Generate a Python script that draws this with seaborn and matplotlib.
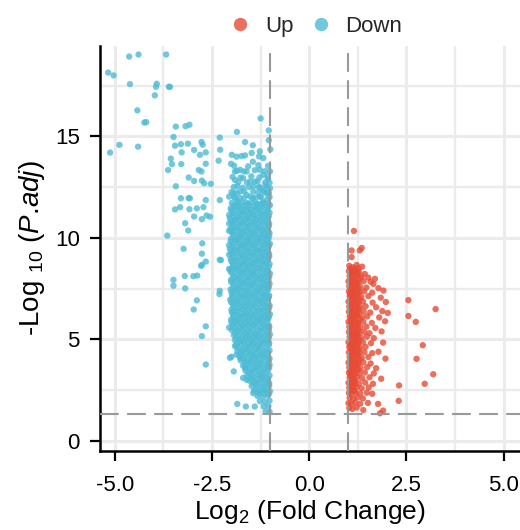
import math

import matplotlib
matplotlib.use("Agg")
import matplotlib.pyplot as plt
import seaborn as sns
import pandas as pd

# ---- values ----
fc_cut = 1.0      # |log2 fold change| threshold
padj_cut = 0.05   # adjusted p-value threshold

x_ticks = [-5.0, -2.5, 0.0, 2.5, 5.0]
y_ticks = [0, 5, 10, 15]
groups = ["Up", "Down"]
group_colors = ["#E64B35", "#4DBBD5"]

# down-regulated: scattered left tail
down_tail_x = [
    -5.17, -5.03, -4.63, -4.39, -3.68, -4.61, -3.92, -3.94, -3.61, -3.58,
    -3.97, -4.42, -4.24, -4.19, -3.43, -3.18, -3.08, -3.49, -4.88, -5.12,
    -4.40, -3.30, -3.45, -3.12, -2.77, -2.74, -3.28, -2.96, -2.66, -2.81,
    -2.30, -2.29, -3.56, -3.53, -3.29, -2.66, -2.33, -3.63, -2.84, -2.77,
    -3.10, -2.96, -2.76, -2.70, -2.53, -3.43, -3.30, -3.10, -3.07, -2.66,
    -2.30, -3.45, -3.32, -3.08, -2.89, -2.72, -2.96, -2.76, -2.64, -2.55,
    -3.19, -3.11, -3.65, -3.23, -2.75, -2.76, -2.66, -2.78, -2.76, -2.30,
    -2.27, -3.20, -2.98, -2.88, -3.49, -3.49, -3.19, -2.31, -2.30, -2.89,
    -2.97, -2.66, -2.76, -2.66, -2.06, -2.04,
]
down_tail_y = [
    18.14, 18.00, 18.93, 19.03, 19.03, 17.57, 17.59, 17.44, 17.44, 17.44,
    17.02, 16.28, 15.68, 15.70, 15.48, 15.50, 15.57, 14.97, 14.58, 14.20,
    14.49, 14.61, 14.54, 14.64, 14.72, 14.59, 14.21, 14.33, 14.21, 14.09,
    14.94, 14.34, 13.90, 13.63, 13.63, 13.65, 13.80, 13.34, 13.34, 13.27,
    12.97, 12.80, 12.82, 12.69, 12.66, 12.54, 11.95, 11.96, 11.95, 11.86,
    11.86, 11.40, 11.51, 11.41, 11.45, 11.51, 11.05, 10.92, 11.10, 11.04,
    10.72, 10.36, 10.11, 9.46, 9.73, 9.22, 8.83, 8.62, 8.67, 8.92,
    8.90, 8.12, 8.11, 8.14, 7.93, 7.64, 7.51, 7.23, 7.39, 6.92,
    6.47, 5.64, 5.16, 3.76, 5.58, 4.09,
]

# down-regulated: loose top of the main cluster and its ragged edges
down_edge_x = [
    -1.99, -1.87, -1.74, -1.65, -2.01, -1.45, -1.86, -1.65, -1.45, -1.25,
    -1.04, -1.04, -1.00, -1.29, -1.91, -1.78, -1.61, -1.27, -1.18, -1.91,
    -1.70, -1.52, -1.40, -1.95, -1.78, -1.61, -1.44, -1.27, -1.10, -1.83,
    -1.57, -1.35, -1.18, -1.01, -1.01, -1.01, -1.48, -1.27, -1.18, -1.06,
    -1.12, -1.30, -1.55, -1.85, -1.20, -1.68, -1.90, -1.45, -1.08, -2.06,
    -2.06, -2.06, -2.06, -2.06, -2.06, -2.06,
    -2.00, -1.91, -1.78, -1.94, -1.65, -1.70, -1.61, -1.44, -1.85, -1.63,
    -1.40, -1.87,
]
down_edge_y = [
    14.09, 14.00, 14.03, 14.06, 13.65, 13.75, 15.22, 14.72, 14.56, 15.88,
    15.29, 14.81, 14.36, 14.01, 13.27, 13.35, 13.27, 13.35, 13.10, 12.85,
    12.94, 12.77, 12.77, 12.19, 12.28, 12.11, 12.28, 12.03, 12.19, 11.78,
    11.70, 11.70, 11.78, 12.44, 11.61, 13.27, 14.18, 14.26, 13.93, 12.90,
    12.60, 12.50, 12.50, 12.55, 12.35, 11.95, 11.95, 11.95, 11.90, 12.03,
    11.12, 10.70, 10.34, 9.63, 9.17, 8.47,
    4.14, 4.67, 4.09, 3.42, 3.59, 3.10, 3.01, 2.35, 1.82, 1.69,
    1.69, 4.25,
]

# down-regulated: upper part of the main cluster (patchy)
down_upper_x = [
    -1.99, -1.86, -1.72, -1.59, -1.46, -1.32, -1.19, -1.05,
    -1.93, -1.79, -1.52, -1.38, -1.24, -1.02,
    -2.00, -1.86, -1.67, -1.31, -1.15, -1.04,
    -1.94, -1.71, -1.44, -1.26, -1.09,
    -1.82, -1.60, -1.33, -1.13, -1.02,
    -1.97, -1.77, -1.49, -1.28, -1.07,
    -1.86, -1.68, -1.40, -1.14,
    -1.93, -1.57, -1.31, -1.06,
]
down_upper_y = [
    11.72, 11.68, 11.75, 11.70, 11.74, 11.67, 11.73, 11.69,
    12.00, 11.97, 12.03, 11.98, 12.02, 12.01,
    12.25, 12.22, 12.28, 12.24, 12.27, 12.21,
    12.50, 12.47, 12.53, 12.48, 12.52,
    12.75, 12.72, 12.78, 12.74, 12.71,
    13.00, 12.97, 13.03, 12.98, 13.02,
    13.30, 13.27, 13.33, 13.28,
    13.55, 13.52, 13.58, 13.54,
]

# down-regulated: the dense body between log2FC -2 and -1
down_core_x = [
    -2.02, -1.88, -1.76, -1.62, -1.49, -1.36, -1.21, -1.06,
    -1.96, -1.82, -1.69, -1.55, -1.43, -1.28, -1.14, -1.02,
    -2.04, -1.90, -1.77, -1.63, -1.50, -1.37, -1.23, -1.08,
    -1.98, -1.84, -1.71, -1.58, -1.44, -1.31, -1.17, -1.03,
    -2.03, -1.89, -1.75, -1.61, -1.48, -1.34, -1.20, -1.07,
    -1.97, -1.83, -1.70, -1.56, -1.42, -1.29, -1.15, -1.02,
    -2.01, -1.87, -1.74, -1.60, -1.47, -1.33, -1.19, -1.05,
    -1.95, -1.81, -1.68, -1.54, -1.41, -1.27, -1.13, -1.01,
    -2.04, -1.90, -1.76, -1.62, -1.49, -1.35, -1.22, -1.08,
    -1.98, -1.85, -1.71, -1.57, -1.44, -1.30, -1.16, -1.03,
    -2.02, -1.88, -1.74, -1.61, -1.47, -1.34, -1.20, -1.06,
    -1.96, -1.82, -1.69, -1.55, -1.42, -1.28, -1.14, -1.02,
    -2.03, -1.89, -1.76, -1.62, -1.48, -1.35, -1.21, -1.07,
    -1.97, -1.83, -1.70, -1.56, -1.43, -1.29, -1.15, -1.01,
    -2.01, -1.87, -1.73, -1.60, -1.46, -1.33, -1.19, -1.05,
    -1.95, -1.81, -1.68, -1.54, -1.41, -1.27, -1.13, -1.02,
    -2.02, -1.88, -1.75, -1.61, -1.48, -1.34, -1.20, -1.06,
    -1.98, -1.84, -1.70, -1.57, -1.43, -1.30, -1.16, -1.03,
    -2.03, -1.89, -1.76, -1.62, -1.49, -1.35, -1.22, -1.08,
    -1.96, -1.83, -1.69, -1.56, -1.42, -1.28, -1.15, -1.02,
    -2.00, -1.87, -1.73, -1.59, -1.46, -1.32, -1.19, -1.05,
    -1.95, -1.81, -1.67, -1.54, -1.40, -1.27, -1.13, -1.01,
    -2.01, -1.88, -1.74, -1.61, -1.47, -1.34, -1.20, -1.06,
    -1.97, -1.84, -1.70, -1.56, -1.43, -1.29, -1.16, -1.03,
    -1.99, -1.85, -1.72, -1.58, -1.45, -1.31, -1.17, -1.04,
    -1.94, -1.80, -1.66, -1.53, -1.39, -1.25, -1.12, -1.01,
    -1.91, -1.77, -1.64, -1.50, -1.37, -1.23, -1.09,
    -1.88, -1.74, -1.60, -1.47, -1.33, -1.19, -1.04,
    -1.85, -1.71, -1.57, -1.44, -1.30, -1.16, -1.02,
    -1.80, -1.66, -1.52, -1.38, -1.24, -1.09,
    -1.76, -1.62, -1.48, -1.34, -1.20, -1.04,
    -1.70, -1.55, -1.41, -1.26, -1.10, -1.02,
    -1.64, -1.50, -1.36, -1.21, -1.06,
    -1.60, -1.46, -1.31, -1.17, -1.02,
    -1.54, -1.39, -1.24, -1.09,
    -1.48, -1.34, -1.19, -1.03,
    -1.42, -1.28, -1.14, -1.01,
    -1.33, -1.19, -1.06,
    -1.27, -1.14, -1.02,
    -1.17, -1.05,
    -1.12, -1.02,
]
down_core_y = [
    11.45, 11.50, 11.42, 11.48, 11.40, 11.47, 11.52, 11.44,
    11.22, 11.18, 11.25, 11.20, 11.16, 11.23, 11.19, 11.24,
    10.96, 10.92, 10.99, 10.94, 10.97, 10.91, 10.98, 10.95,
    10.71, 10.68, 10.73, 10.66, 10.72, 10.69, 10.74, 10.70,
    10.44, 10.48, 10.42, 10.47, 10.43, 10.46, 10.41, 10.45,
    10.21, 10.17, 10.23, 10.19, 10.22, 10.16, 10.20, 10.24,
    9.96, 9.93, 9.98, 9.92, 9.97, 9.94, 9.99, 9.95,
    9.70, 9.73, 9.67, 9.72, 9.68, 9.74, 9.69, 9.71,
    9.46, 9.42, 9.48, 9.44, 9.47, 9.41, 9.45, 9.43,
    9.19, 9.23, 9.17, 9.22, 9.18, 9.21, 9.16, 9.20,
    8.96, 8.93, 8.98, 8.94, 8.97, 8.92, 8.95, 8.99,
    8.70, 8.68, 8.73, 8.67, 8.72, 8.69, 8.74, 8.71,
    8.44, 8.47, 8.42, 8.46, 8.43, 8.48, 8.45, 8.41,
    8.21, 8.18, 8.23, 8.19, 8.22, 8.17, 8.20, 8.24,
    7.94, 7.97, 7.92, 7.96, 7.93, 7.98, 7.95, 7.91,
    7.71, 7.68, 7.73, 7.69, 7.72, 7.67, 7.70, 7.74,
    7.46, 7.43, 7.48, 7.42, 7.47, 7.44, 7.49, 7.45,
    7.19, 7.22, 7.17, 7.21, 7.18, 7.23, 7.20, 7.16,
    6.96, 6.93, 6.98, 6.94, 6.97, 6.92, 6.95, 6.99,
    6.70, 6.73, 6.68, 6.72, 6.69, 6.74, 6.71, 6.67,
    6.46, 6.43, 6.48, 6.44, 6.47, 6.42, 6.45, 6.49,
    6.21, 6.18, 6.23, 6.19, 6.22, 6.17, 6.20, 6.24,
    5.96, 5.93, 5.98, 5.94, 5.97, 5.92, 5.95, 5.99,
    5.70, 5.73, 5.68, 5.72, 5.69, 5.74, 5.71, 5.67,
    5.46, 5.43, 5.48, 5.42, 5.47, 5.44, 5.49, 5.45,
    5.21, 5.18, 5.23, 5.19, 5.22, 5.17, 5.20, 5.24,
    4.96, 4.93, 4.98, 4.94, 4.97, 4.92, 4.95,
    4.70, 4.73, 4.68, 4.72, 4.69, 4.74, 4.71,
    4.46, 4.43, 4.48, 4.44, 4.47, 4.42, 4.45,
    4.21, 4.18, 4.23, 4.19, 4.22, 4.17,
    3.96, 3.93, 3.98, 3.94, 3.97, 3.92,
    3.70, 3.73, 3.68, 3.72, 3.69, 3.74,
    3.46, 3.43, 3.48, 3.44, 3.47,
    3.21, 3.18, 3.23, 3.19, 3.22,
    2.96, 2.93, 2.98, 2.94,
    2.70, 2.73, 2.68, 2.72,
    2.46, 2.43, 2.48, 2.44,
    2.21, 2.18, 2.23,
    1.96, 1.93, 1.98,
    1.70, 1.72,
    1.46, 1.43,
]

# down-regulated: genes sitting between the rows above (the body is solid)
down_fill_x = [
    -1.95, -1.82, -1.69, -1.55, -1.42, -1.29, -1.14,
    -2.00, -1.89, -1.75, -1.62, -1.49, -1.35, -1.21, -1.08,
    -1.97, -1.83, -1.70, -1.57, -1.43, -1.30, -1.16, -1.04,
    -2.01, -1.91, -1.77, -1.64, -1.51, -1.37, -1.24, -1.10,
    -1.96, -1.82, -1.68, -1.55, -1.41, -1.27, -1.13, -1.04,
    -2.00, -1.90, -1.76, -1.63, -1.49, -1.36, -1.22, -1.09,
    -1.94, -1.80, -1.67, -1.53, -1.40, -1.26, -1.12, -1.03,
    -2.02, -1.88, -1.75, -1.61, -1.48, -1.34, -1.20, -1.08,
    -1.97, -1.83, -1.69, -1.56, -1.42, -1.29, -1.15, -1.04,
    -2.01, -1.91, -1.78, -1.64, -1.50, -1.37, -1.23, -1.09,
    -1.95, -1.81, -1.67, -1.54, -1.40, -1.27, -1.13, -1.03,
    -2.00, -1.89, -1.75, -1.62, -1.48, -1.35, -1.21, -1.08,
    -1.96, -1.82, -1.69, -1.55, -1.42, -1.28, -1.14, -1.04,
    -2.02, -1.90, -1.76, -1.63, -1.49, -1.36, -1.22, -1.09,
    -1.94, -1.80, -1.67, -1.53, -1.40, -1.26, -1.12, -1.03,
    -2.01, -1.88, -1.74, -1.61, -1.47, -1.34, -1.20, -1.08,
    -1.95, -1.82, -1.68, -1.55, -1.41, -1.27, -1.13, -1.04,
    -2.00, -1.91, -1.77, -1.64, -1.50, -1.36, -1.23, -1.09,
    -1.97, -1.83, -1.69, -1.56, -1.42, -1.29, -1.15, -1.04,
    -2.01, -1.89, -1.76, -1.62, -1.48, -1.35, -1.21, -1.08,
    -1.94, -1.80, -1.66, -1.53, -1.39, -1.26, -1.12, -1.03,
    -1.99, -1.90, -1.77, -1.63, -1.50, -1.36, -1.22, -1.09,
    -1.96, -1.82, -1.68, -1.54, -1.41, -1.27, -1.14, -1.04,
    -2.00, -1.89, -1.75, -1.62, -1.48, -1.35, -1.21, -1.08,
    -1.94, -1.81, -1.67, -1.54, -1.40, -1.26, -1.12, -1.03,
    -1.91, -1.78, -1.64, -1.51, -1.37, -1.23, -1.09,
    -1.87, -1.73, -1.59, -1.46, -1.32, -1.18, -1.04,
    -1.84, -1.70, -1.56, -1.43, -1.29, -1.15, -1.03,
    -1.81, -1.67, -1.53, -1.39, -1.26, -1.11,
    -1.76, -1.62, -1.49, -1.35, -1.21, -1.07,
    -1.71, -1.57, -1.43, -1.29, -1.14, -1.02,
    -1.66, -1.52, -1.38, -1.23, -1.08,
    -1.61, -1.47, -1.32, -1.17, -1.03,
    -1.55, -1.41, -1.26, -1.12,
    -1.50, -1.35, -1.20, -1.06,
    -1.44, -1.30, -1.15, -1.03,
    -1.37, -1.23, -1.08,
    -1.29, -1.16, -1.04,
]
down_fill_y = [
    11.58, 11.56, 11.60, 11.57, 11.59, 11.55, 11.61,
    11.33, 11.35, 11.31, 11.34, 11.30, 11.36, 11.32, 11.34,
    11.08, 11.06, 11.10, 11.07, 11.11, 11.05, 11.09, 11.08,
    10.83, 10.85, 10.81, 10.84, 10.80, 10.86, 10.82, 10.83,
    10.58, 10.56, 10.60, 10.57, 10.61, 10.55, 10.59, 10.58,
    10.33, 10.35, 10.31, 10.34, 10.30, 10.36, 10.32, 10.33,
    10.08, 10.06, 10.10, 10.07, 10.11, 10.05, 10.09, 10.08,
    9.83, 9.85, 9.81, 9.84, 9.80, 9.86, 9.82, 9.83,
    9.58, 9.56, 9.60, 9.57, 9.61, 9.55, 9.59, 9.58,
    9.33, 9.35, 9.31, 9.34, 9.30, 9.36, 9.32, 9.33,
    9.08, 9.06, 9.10, 9.07, 9.11, 9.05, 9.09, 9.08,
    8.83, 8.85, 8.81, 8.84, 8.80, 8.86, 8.82, 8.83,
    8.58, 8.56, 8.60, 8.57, 8.61, 8.55, 8.59, 8.58,
    8.33, 8.35, 8.31, 8.34, 8.30, 8.36, 8.32, 8.33,
    8.08, 8.06, 8.10, 8.07, 8.11, 8.05, 8.09, 8.08,
    7.83, 7.85, 7.81, 7.84, 7.80, 7.86, 7.82, 7.83,
    7.58, 7.56, 7.60, 7.57, 7.61, 7.55, 7.59, 7.58,
    7.33, 7.35, 7.31, 7.34, 7.30, 7.36, 7.32, 7.33,
    7.08, 7.06, 7.10, 7.07, 7.11, 7.05, 7.09, 7.08,
    6.83, 6.85, 6.81, 6.84, 6.80, 6.86, 6.82, 6.83,
    6.58, 6.56, 6.60, 6.57, 6.61, 6.55, 6.59, 6.58,
    6.33, 6.35, 6.31, 6.34, 6.30, 6.36, 6.32, 6.33,
    6.08, 6.06, 6.10, 6.07, 6.11, 6.05, 6.09, 6.08,
    5.83, 5.85, 5.81, 5.84, 5.80, 5.86, 5.82, 5.83,
    5.58, 5.56, 5.60, 5.57, 5.61, 5.55, 5.59, 5.58,
    5.33, 5.35, 5.31, 5.34, 5.30, 5.36, 5.32,
    5.08, 5.06, 5.10, 5.07, 5.11, 5.05, 5.09,
    4.83, 4.85, 4.81, 4.84, 4.80, 4.86, 4.82,
    4.58, 4.56, 4.60, 4.57, 4.61, 4.55,
    4.33, 4.35, 4.31, 4.34, 4.30, 4.36,
    4.08, 4.06, 4.10, 4.07, 4.11, 4.05,
    3.83, 3.85, 3.81, 3.84, 3.80,
    3.58, 3.56, 3.60, 3.57, 3.61,
    3.33, 3.35, 3.31, 3.34,
    3.08, 3.06, 3.10, 3.07,
    2.83, 2.85, 2.81, 2.84,
    2.58, 2.56, 2.60,
    2.33, 2.35, 2.31,
]

# up-regulated: isolated points
up_tail_x = [
    1.15, 1.09, 1.30, 1.35, 1.09, 1.43, 1.69, 1.65, 2.55, 3.25,
    2.55, 2.74, 2.92, 2.76, 3.19, 2.97, 2.31, 2.30, 1.90, 1.82,
    1.77, 1.39,
]
up_tail_y = [
    10.34, 9.38, 9.38, 9.50, 9.05, 8.22, 7.98, 7.73, 6.93, 6.49,
    6.15, 5.86, 4.71, 4.04, 3.28, 2.81, 2.73, 1.97, 1.49, 1.36,
    1.82, 1.52,
]

# up-regulated: main cluster right of log2FC = 1
up_core_x = [
    1.03, 1.12, 1.22, 1.36,
    1.02, 1.09, 1.19, 1.28,
    1.04, 1.13, 1.23, 1.34, 1.52,
    1.01, 1.08, 1.17, 1.27, 1.40, 1.58,
    1.03, 1.11, 1.21, 1.31, 1.47, 1.78,
    1.02, 1.09, 1.18, 1.29, 1.41, 1.62, 1.91,
    1.04, 1.13, 1.22, 1.34, 1.52, 1.84,
    1.01, 1.08, 1.17, 1.27, 1.38, 1.63, 1.97,
    1.03, 1.12, 1.21, 1.31, 1.45, 1.72,
    1.02, 1.09, 1.19, 1.28, 1.40, 1.57, 1.88, 2.02,
    1.04, 1.13, 1.23, 1.35, 1.49, 1.80,
    1.01, 1.08, 1.17, 1.26, 1.39, 1.61, 1.95,
    1.03, 1.11, 1.21, 1.32, 1.47, 1.70,
    1.02, 1.09, 1.18, 1.28, 1.41, 1.55, 1.86,
    1.04, 1.13, 1.22, 1.33, 1.48, 1.66,
    1.01, 1.08, 1.17, 1.27, 1.38, 1.59, 1.90,
    1.03, 1.12, 1.21, 1.31, 1.45,
    1.02, 1.09, 1.19, 1.29, 1.42, 1.62, 1.78,
    1.04, 1.13, 1.23, 1.35, 1.52, 1.96,
    1.01, 1.08, 1.17, 1.27, 1.39, 1.58,
    1.03, 1.11, 1.21, 1.32, 1.49, 1.72,
    1.02, 1.09, 1.18, 1.29, 1.43, 1.66,
    1.04, 1.13, 1.23, 1.36, 1.55, 1.85,
    1.01, 1.08, 1.17, 1.28, 1.44, 1.64,
    1.03, 1.12, 1.22, 1.35, 1.53,
    1.02, 1.09, 1.19, 1.31, 1.48, 1.62,
    1.04, 1.13, 1.24, 1.38,
    1.01, 1.08, 1.18, 1.31, 1.51,
    1.03, 1.11, 1.22,
]
up_core_y = [
    8.62, 8.55, 8.66, 8.58,
    8.36, 8.31, 8.38, 8.33,
    8.12, 8.07, 8.14, 8.09, 8.04,
    7.86, 7.82, 7.88, 7.81, 7.87, 7.84,
    7.62, 7.57, 7.64, 7.59, 7.55, 7.52,
    7.36, 7.31, 7.38, 7.33, 7.37, 7.30, 7.40,
    7.12, 7.07, 7.14, 7.09, 7.13, 7.05,
    6.86, 6.82, 6.88, 6.83, 6.87, 6.81, 6.84,
    6.62, 6.57, 6.64, 6.59, 6.63, 6.58,
    6.36, 6.31, 6.38, 6.33, 6.37, 6.32, 6.39, 6.30,
    6.12, 6.07, 6.14, 6.09, 6.13, 6.08,
    5.86, 5.82, 5.88, 5.83, 5.87, 5.81, 5.89,
    5.62, 5.57, 5.64, 5.59, 5.63, 5.56,
    5.36, 5.31, 5.38, 5.33, 5.37, 5.30, 5.39,
    5.12, 5.07, 5.14, 5.09, 5.13, 5.06,
    4.86, 4.82, 4.88, 4.83, 4.87, 4.81, 4.84,
    4.62, 4.57, 4.64, 4.59, 4.63,
    4.36, 4.31, 4.38, 4.33, 4.37, 4.32, 4.39,
    4.12, 4.07, 4.14, 4.09, 4.13, 4.05,
    3.86, 3.82, 3.88, 3.83, 3.87, 3.81,
    3.62, 3.57, 3.64, 3.59, 3.63, 3.58,
    3.36, 3.31, 3.38, 3.33, 3.37, 3.32,
    3.12, 3.07, 3.14, 3.09, 3.13, 3.06,
    2.86, 2.82, 2.88, 2.83, 2.87, 2.81,
    2.62, 2.57, 2.64, 2.59, 2.63,
    2.36, 2.31, 2.38, 2.33, 2.37, 2.32,
    2.12, 2.07, 2.14, 2.09,
    1.86, 1.82, 1.88, 1.83, 1.87,
    1.62, 1.57, 1.64,
]

# up-regulated: genes packed against the fold-change cut-off
up_fill_x = [
    1.06, 1.16, 1.26,
    1.07, 1.15, 1.24,
    1.05, 1.17, 1.30,
    1.06, 1.14, 1.23,
    1.07, 1.16, 1.26,
    1.05, 1.15, 1.25,
    1.06, 1.17, 1.29,
    1.07, 1.14, 1.24,
    1.05, 1.16, 1.27,
    1.06, 1.15, 1.23,
    1.07, 1.17, 1.30,
    1.05, 1.14, 1.25,
    1.06, 1.16, 1.26,
    1.07, 1.15, 1.24,
    1.05, 1.17, 1.28,
    1.06, 1.14, 1.23,
    1.07, 1.16, 1.27,
    1.05, 1.15, 1.25,
    1.06, 1.17, 1.29,
    1.07, 1.14, 1.24,
    1.05, 1.16, 1.26,
    1.06, 1.15,
    1.07, 1.17,
    1.05, 1.14,
    1.06, 1.16,
]
up_fill_y = [
    8.48, 8.45, 8.50,
    8.23, 8.21, 8.25,
    7.98, 7.96, 8.00,
    7.73, 7.71, 7.75,
    7.48, 7.46, 7.50,
    7.23, 7.21, 7.25,
    6.98, 6.96, 7.00,
    6.73, 6.71, 6.75,
    6.48, 6.46, 6.50,
    6.23, 6.21, 6.25,
    5.98, 5.96, 6.00,
    5.73, 5.71, 5.75,
    5.48, 5.46, 5.50,
    5.23, 5.21, 5.25,
    4.98, 4.96, 5.00,
    4.73, 4.71, 4.75,
    4.48, 4.46, 4.50,
    4.23, 4.21, 4.25,
    3.98, 3.96, 4.00,
    3.73, 3.71, 3.75,
    3.48, 3.46, 3.50,
    3.23, 3.21,
    2.98, 2.96,
    2.73, 2.71,
    2.48, 2.46,
]

# ---- assemble tidy frame ----
down_x = down_tail_x + down_edge_x + down_upper_x + down_core_x + down_fill_x
down_y = down_tail_y + down_edge_y + down_upper_y + down_core_y + down_fill_y
up_x = up_tail_x + up_core_x + up_fill_x
up_y = up_tail_y + up_core_y + up_fill_y

df = pd.DataFrame({
    "log2fc": down_x + up_x,
    "logp": down_y + up_y,
    "change": ["Down"] * len(down_x) + ["Up"] * len(up_x),
})

# ---- styling ----
sns.set_theme(style="white")
plt.rcParams["font.family"] = ["Liberation Sans", "DejaVu Sans"]
plt.rcParams["mathtext.fontset"] = "custom"
plt.rcParams["mathtext.rm"] = "Liberation Sans"
plt.rcParams["mathtext.it"] = "Liberation Sans:italic"

fig = plt.figure(figsize=(5.2, 5.3), dpi=100)
ax = fig.add_axes([100 / 520, 79 / 530, 420 / 520, 405 / 530])

sns.scatterplot(
    data=df, x="log2fc", y="logp", hue="change",
    hue_order=groups, palette=dict(zip(groups, group_colors)),
    s=21, alpha=0.8, linewidth=0, ax=ax, zorder=2,
)

# threshold lines drawn over the points
dash = (0, (9.0, 4.0))
for xv in (-fc_cut, fc_cut):
    ax.axvline(xv, color="#999999", lw=1.5, ls=dash, zorder=3)
ax.axhline(-math.log10(padj_cut), color="#999999", lw=1.5, ls=dash, zorder=3)

ax.set_xlim(-5.38, 5.42)
ax.set_ylim(-0.5, 19.45)
ax.set_xticks(x_ticks)
ax.set_xticklabels([f"{t:.1f}" for t in x_ticks])
ax.set_yticks(y_ticks)
ax.set_xticks([-3.75, -1.25, 1.25, 3.75], minor=True)
ax.set_yticks([2.5, 7.5, 12.5, 17.5], minor=True)

ax.set_axisbelow(True)
ax.grid(which="major", color="#EBEBEB", lw=2.2)
ax.grid(which="minor", color="#EBEBEB", lw=1.7)

for side in ("top", "right"):
    ax.spines[side].set_visible(False)
for side in ("left", "bottom"):
    ax.spines[side].set_color("black")
    ax.spines[side].set_linewidth(1.8)

ax.tick_params(which="major", length=7.5, width=1.6, color="black",
               labelsize=16, labelcolor="black",
               bottom=True, left=True)
ax.tick_params(axis="x", which="major", pad=10)
ax.tick_params(axis="y", which="major", pad=7)
ax.tick_params(which="minor", length=0)

ax.set_xlabel("Log$_{2}$ (Fold Change)", fontsize=19, color="black",
              labelpad=1.5)
ax.set_ylabel(r"-Log $_{10}$ ($\mathit{P}$.$\mathit{adj}$)", fontsize=20,
              color="black", labelpad=6)

sns.move_legend(
    ax, "center", bbox_to_anchor=(0.514, 1.048), ncol=2, title=None,
    frameon=False, markerscale=2.1, fontsize=16, handlelength=1.0,
    handletextpad=0.6, columnspacing=0.75,
)

fig.savefig("out.png", dpi=100)
